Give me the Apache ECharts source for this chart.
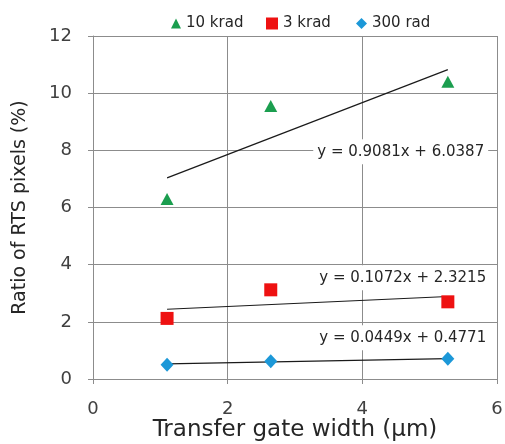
<!DOCTYPE html>
<html>
<head>
<meta charset="utf-8">
<script src="https://cdn.jsdelivr.net/npm/echarts@6/dist/echarts.min.js"></script>
<style>
  html, body { margin: 0; padding: 0; background: #fff; }
  #chart { width: 505px; height: 444px; }
</style>
</head>
<body>
<div id="chart"></div>
<script>
// Transfer gate width (µm) of the three measured pixel designs
const gateWidths = [1.1, 2.64, 5.27];

// Ratio of RTS pixels (%) per dose
const dose10krad = [6.3, 9.55, 10.4];
const dose3krad = [2.12, 3.12, 2.7];
const dose300rad = [0.5, 0.62, 0.71];

const seriesNames = ['10 krad', '3 krad', '300 rad'];

// Linear fits: [slope, intercept]
const fit10krad = [0.9081, 6.0387];
const fit3krad = [0.1072, 2.3215];
const fit300rad = [0.0449, 0.4771];

const xTicks = [0, 2, 4, 6];
const yTicks = [0, 2, 4, 6, 8, 10, 12];

const FONT = 'DejaVu Sans';
const GRID_COLOR = '#8c8c8c';
const TEXT_COLOR = '#262626';

const COLORS = ['#1b9e4f', '#ee1111', '#1c98d8'];

function points(ys) {
  return gateWidths.map((x, i) => [x, ys[i]]);
}

function fitLine(fit) {
  const x0 = gateWidths[0];
  const x1 = gateWidths[gateWidths.length - 1];
  return [[x0, fit[0] * x0 + fit[1]], [x1, fit[0] * x1 + fit[1]]];
}

function equationText(fit) {
  return 'y = ' + fit[0].toFixed(4) + 'x + ' + fit[1].toFixed(4);
}

function fitSeries(fit, labelAt) {
  return {
    type: 'line',
    data: fitLine(fit),
    showSymbol: false,
    symbol: 'none',
    silent: true,
    z: 3,
    lineStyle: { color: '#1a1a1a', width: 1.2 },
    markPoint: {
      symbol: 'rect',
      symbolSize: 0,
      silent: true,
      data: [{
        coord: labelAt,
        label: {
          show: true,
          position: 'inside',
          formatter: equationText(fit),
          fontFamily: FONT,
          fontSize: 15,
          color: TEXT_COLOR,
          backgroundColor: '#fff',
          padding: [5, 4, 5, 4]
        }
      }]
    }
  };
}

function legendItem(name, icon, left, w, h) {
  return {
    top: 11,
    left: left,
    data: [{ name: name, icon: icon }],
    itemWidth: w,
    itemHeight: h,
    itemGap: 0,
    selectedMode: false,
    textStyle: { fontFamily: FONT, fontSize: 15, color: TEXT_COLOR }
  };
}

function scatterSeries(i, ys, symbol, size) {
  return {
    name: seriesNames[i],
    type: 'scatter',
    data: points(ys),
    symbol: symbol,
    symbolSize: size,
    itemStyle: { color: COLORS[i], opacity: 1 },
    z: 4
  };
}

const chart = echarts.init(document.getElementById('chart'), null, { renderer: 'canvas' });

chart.setOption({
  animation: false,
  backgroundColor: '#fff',
  textStyle: { fontFamily: FONT },
  legend: [
    legendItem(seriesNames[0], 'triangle', 166, 10, 10),
    legendItem(seriesNames[1], 'rect', 261, 12, 12),
    legendItem(seriesNames[2], 'diamond', 351, 11, 11)
  ],
  grid: { left: 93, right: 8, top: 36, bottom: 65, containLabel: false, outerBoundsMode: 'none' },
  xAxis: {
    type: 'value',
    min: xTicks[0],
    max: xTicks[xTicks.length - 1],
    interval: 2,
    name: 'Transfer gate width (µm)',
    nameLocation: 'middle',
    nameGap: 40,
    nameMoveOverlap: false,
    nameTextStyle: { fontFamily: FONT, fontSize: 23, color: TEXT_COLOR },
    axisLine: { show: true, lineStyle: { color: GRID_COLOR, width: 1 } },
    axisTick: { show: true, length: 5, lineStyle: { color: GRID_COLOR } },
    axisLabel: { fontFamily: FONT, fontSize: 18, color: '#404040', margin: 21 },
    splitLine: { show: true, lineStyle: { color: GRID_COLOR, width: 1 } }
  },
  yAxis: {
    type: 'value',
    min: yTicks[0],
    max: yTicks[yTicks.length - 1],
    interval: 2,
    name: 'Ratio of RTS pixels (%)',
    nameLocation: 'middle',
    nameGap: 63,
    nameMoveOverlap: false,
    nameTextStyle: { fontFamily: FONT, fontSize: 19, color: TEXT_COLOR },
    axisLine: { show: true, lineStyle: { color: GRID_COLOR, width: 1 } },
    axisTick: { show: true, length: 5, lineStyle: { color: GRID_COLOR } },
    axisLabel: { fontFamily: FONT, fontSize: 18, color: '#404040', margin: 21 },
    splitLine: { show: true, lineStyle: { color: GRID_COLOR, width: 1 } }
  },
  series: [
    scatterSeries(0, dose10krad, 'triangle', [13, 12]),
    scatterSeries(1, dose3krad, 'rect', 13),
    scatterSeries(2, dose300rad, 'diamond', [13, 14]),
    fitSeries(fit10krad, [4.57, 7.95]),
    fitSeries(fit3krad, [4.6, 3.54]),
    fitSeries(fit300rad, [4.6, 1.44])
  ]
});
</script>
</body>
</html>
